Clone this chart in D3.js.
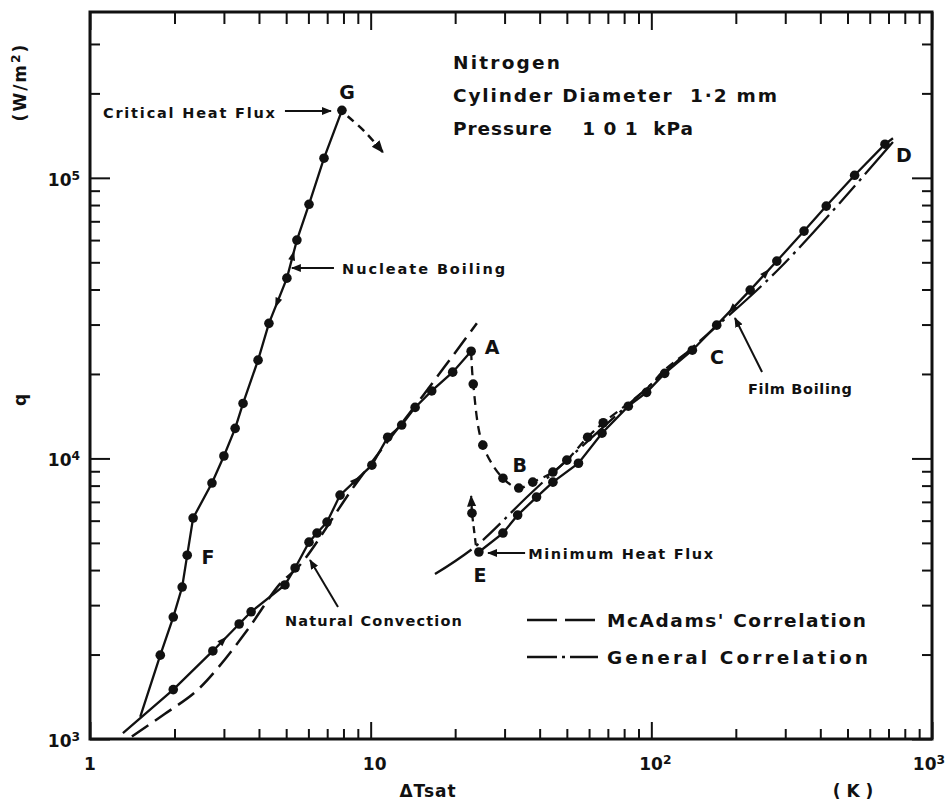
<!DOCTYPE html>
<html>
<head>
<meta charset="utf-8">
<script src="https://cdn.jsdelivr.net/npm/d3@7"></script>
<style>
  body { margin: 0; background: #fff; }
  svg { font-family: "DejaVu Sans", sans-serif; font-weight: bold; }
</style>
</head>
<body>
<script>
// Boiling curve of nitrogen (dT in K, q in W/m2).

// Natural convection run (first value is the line start, no marker).
const ncT = [1.31, 1.98, 2.74, 3.40, 3.75, 4.95, 5.38, 6.03, 6.44, 6.99, 7.78, 10.1, 11.5, 12.9, 14.4, 16.5, 19.6, 22.8];
const ncQ = [1.05e3, 1.50e3, 2.06e3, 2.57e3, 2.84e3, 3.54e3, 4.07e3, 5.03e3, 5.42e3, 5.93e3, 7.40e3, 9.46e3, 1.19e4, 1.315e4, 1.52e4, 1.74e4, 2.03e4, 2.41e4];

// Nucleate boiling run F -> G (first value is the branch point, no marker).
const nbT = [1.51, 1.78, 1.98, 2.13, 2.22, 2.33, 2.72, 3.00, 3.29, 3.51, 3.97, 4.34, 5.03, 5.46, 6.03, 6.82, 7.90];
const nbQ = [1.2e3, 1.99e3, 2.72e3, 3.48e3, 4.52e3, 6.13e3, 8.17e3, 1.02e4, 1.28e4, 1.57e4, 2.24e4, 3.03e4, 4.39e4, 6.0e4, 8.05e4, 1.175e5, 1.74e5];

// Transition A -> B (dashed, with markers) and its unmarked tail towards C.
const trT = [22.8, 23.2, 25.1, 29.6, 33.7, 37.8, 44.6, 50.0, 59.3, 67.4];
const trQ = [2.41e4, 1.84e4, 1.115e4, 8.5e3, 7.84e3, 8.23e3, 8.94e3, 9.86e3, 1.19e4, 1.34e4];
const trTailT = [82.8, 96.2, 111.6, 140];
const trTailQ = [1.57e4, 1.77e4, 2.07e4, 2.46e4];

// Film boiling run E -> D (last value is the line end, no marker).
const fbT = [24.3, 29.6, 33.4, 39.0, 44.6, 55.0, 66.7, 82.8, 96.2, 111.6, 140, 171, 225, 280, 350, 420, 530, 680, 726];
const fbQ = [4.64e3, 5.42e3, 6.28e3, 7.28e3, 8.23e3, 9.61e3, 1.23e4, 1.535e4, 1.72e4, 2.01e4, 2.43e4, 2.985e4, 3.98e4, 5.05e4, 6.46e4, 7.93e4, 1.021e5, 1.318e5, 1.384e5];

// Jump from E back up (dashed arrow, marker on the middle value).
const ejT = [23.7, 22.96, 22.8];
const ejQ = [4.91e3, 6.38e3, 7.34e3];

// Jump away from the critical heat flux G (dashed arrow).
const gjT = [8.28, 9.6, 11.05];
const gjQ = [1.658e5, 1.45e5, 1.234e5];

// McAdams' correlation (long dashes).
const mcT = [1.41, 1.85, 2.37, 2.84, 3.63, 4.75, 5.6, 8.94, 15.4, 23.9];
const mcQ = [1.02e3, 1.23e3, 1.47e3, 1.78e3, 2.44e3, 3.57e3, 4.17e3, 8.23e3, 1.68e4, 3.03e4];

// General correlation (dash-dot).
const gcT = [16.95, 23.7, 37.0, 65.6, 137, 287, 726];
const gcQ = [3.87e3, 4.87e3, 7.47e3, 1.262e4, 2.434e4, 4.77e4, 1.342e5];

// Axis ticks and labels.
const xMajor = [1, 10, 100, 1000];
const xTickLabels = ["1", "10", "10^2", "10^3"];
const yMajor = [1e3, 1e4, 1e5];
const yTickLabels = ["10^3", "10^4", "10^5"];

const zip = (a, b) => a.map((v, i) => [v, b[i]]);

const width = 948, height = 803;
const plotL = 90, plotR = 932, plotT = 12, plotB = 739;

const svg = d3.select("body").append("svg")
    .attr("width", width)
    .attr("height", height);

const x = d3.scaleLog().domain([1, 1000]).range([plotL, plotR]);
const y = d3.scaleLog().domain([1e3, 3.9e5]).range([plotB, plotT]);

const ink = "#111";

// Arrow head used by annotations and jump arrows.
svg.append("defs").append("marker")
    .attr("id", "head")
    .attr("viewBox", "0 0 10 10")
    .attr("refX", 9).attr("refY", 5)
    .attr("markerWidth", 5).attr("markerHeight", 5)
    .attr("markerUnits", "strokeWidth")
    .attr("orient", "auto")
  .append("path")
    .attr("d", "M0,1 L10,5 L0,9 Z")
    .attr("fill", ink);

// Minor ticks 2..9 in every decade of each axis.
const minors = (lo, hi) => {
    const out = [];
    for (let d = lo; d < hi; d *= 10)
        for (let k = 2; k <= 9; k++) out.push(k * d);
    return out;
};
const xMinor = minors(1, 1000);
const yMinor = minors(1e3, 1e5).concat([2e5, 3e5]);

const isMajor = d => Math.abs(Math.log10(d) - Math.round(Math.log10(d))) < 1e-9;

// Four axes, ticks pointing inward.
const axes = [
    { gen: d3.axisBottom(x), vals: xMinor.concat(xMajor), tr: `translate(0,${plotB})`, dir: -1, attr: "y2", maj: 17, min: 10 },
    { gen: d3.axisTop(x), vals: xMinor.concat(xMajor), tr: `translate(0,${plotT})`, dir: 1, attr: "y2", maj: 18, min: 12 },
    { gen: d3.axisLeft(y), vals: yMinor.concat(yMajor), tr: `translate(${plotL},0)`, dir: 1, attr: "x2", maj: 20, min: 10 },
    { gen: d3.axisRight(y), vals: yMinor.concat(yMajor), tr: `translate(${plotR},0)`, dir: -1, attr: "x2", maj: 20, min: 10 }
];
axes.forEach(a => {
    const g = svg.append("g")
        .attr("transform", a.tr)
        .call(a.gen.tickValues(a.vals).tickFormat(() => "").tickSizeOuter(0));
    g.select(".domain").remove();
    g.selectAll(".tick line")
        .attr(a.attr, d => a.dir * (isMajor(d) ? a.maj : a.min))
        .attr("stroke", ink)
        .attr("stroke-width", 2);
});

// Frame.
svg.append("rect")
    .attr("x", plotL).attr("y", plotT)
    .attr("width", plotR - plotL).attr("height", plotB - plotT)
    .attr("fill", "none")
    .attr("stroke", ink)
    .attr("stroke-width", 3);

// Labels like "10^2" become 10 with a raised exponent.
const powerText = (sel, label) => {
    const [base, exp] = label.split("^");
    sel.append("tspan").text(base);
    if (exp) sel.append("tspan").attr("dy", "-0.5em").attr("font-size", "0.72em").text(exp);
};

xMajor.forEach((v, i) => {
    const last = i === xMajor.length - 1;
    svg.append("text")
        .attr("x", last ? width - 3 : x(v) + (i === 0 ? 0 : 4))
        .attr("y", plotB + 31)
        .attr("text-anchor", last ? "end" : "middle")
        .attr("font-size", 17)
        .attr("fill", ink)
        .call(powerText, xTickLabels[i]);
});

yMajor.forEach((v, i) => {
    svg.append("text")
        .attr("x", plotL - 10)
        .attr("y", y(v) + 8)
        .attr("text-anchor", "end")
        .attr("font-size", 17)
        .attr("fill", ink)
        .call(powerText, yTickLabels[i]);
});

// Axis titles.
svg.append("text")
    .attr("x", 428).attr("y", 797)
    .attr("text-anchor", "middle")
    .attr("font-size", 17)
    .attr("letter-spacing", 1)
    .attr("fill", ink)
    .text("\u0394Tsat");

svg.append("text")
    .attr("x", 853).attr("y", 797)
    .attr("text-anchor", "middle")
    .attr("font-size", 17)
    .attr("fill", ink)
    .attr("xml:space", "preserve")
    .text("( K )");

svg.append("text")
    .attr("transform", "translate(26,82) rotate(-90)")
    .attr("text-anchor", "middle")
    .attr("font-size", 17)
    .attr("letter-spacing", 2)
    .attr("fill", ink)
    .call(s => {
        s.append("tspan").text("(W/m");
        s.append("tspan").attr("dy", "-0.5em").attr("font-size", "0.72em").text("2");
        s.append("tspan").attr("dy", "0.35em").text(")");
    });

svg.append("text")
    .attr("transform", "translate(26,400) rotate(-90)")
    .attr("text-anchor", "middle")
    .attr("font-size", 17)
    .attr("fill", ink)
    .text("q");

// Curves.
const line = d3.line().x(d => x(d[0])).y(d => y(d[1]));
const smooth = d3.line().x(d => x(d[0])).y(d => y(d[1])).curve(d3.curveCatmullRom);

const drawPath = (pts, gen, dash, w, head) => {
    const p = svg.append("path")
        .datum(pts)
        .attr("d", gen)
        .attr("fill", "none")
        .attr("stroke", ink)
        .attr("stroke-width", w)
        .attr("stroke-linecap", "butt")
        .attr("stroke-dasharray", dash);
    if (head) p.attr("marker-end", "url(#head)");
    return p;
};

const drawDots = pts => {
    svg.append("g").selectAll("circle")
        .data(pts)
        .join("circle")
        .attr("cx", d => x(d[0]))
        .attr("cy", d => y(d[1]))
        .attr("r", 4.8)
        .attr("fill", ink);
};

drawPath(zip(mcT, mcQ), smooth, "20,8", 2.5);
drawPath(zip(gcT, gcQ), smooth, "44,6,3,6,24,6,3,6", 2.3);

const nc = zip(ncT, ncQ);
drawPath(nc, line, null, 2.3);
drawDots(nc.slice(1));

const nb = zip(nbT, nbQ);
drawPath(nb, line, null, 2.3);
drawDots(nb.slice(1));

const tr = zip(trT, trQ);
drawPath(tr.concat(zip(trTailT, trTailQ)), smooth, "9,6", 2.3);
drawDots(tr.slice(1));

const fb = zip(fbT, fbQ);
drawPath(fb, line, null, 2.3);
drawDots(fb.slice(0, -1));

const ej = zip(ejT, ejQ);
drawPath(ej, line, "7,5", 2.3, true);
drawDots([ej[1]]);

drawPath(zip(gjT, gjQ), smooth, "8,6", 2.5, true);

// Small direction arrows along the runs: series, segment index, fraction, sense.
const flow = [
    [nc, 2, 0.4, 1], [nc, 10, 0.5, 1],
    [nb, 12, 0.6, 1], [nb, 11, 0.45, -1],
    [fb, 11, 0.45, -1], [fb, 12, 0.6, 1]
];
flow.forEach(([pts, i, f, s]) => {
    const x0 = x(pts[i][0]), y0 = y(pts[i][1]);
    const x1 = x(pts[i + 1][0]), y1 = y(pts[i + 1][1]);
    const px = x0 + f * (x1 - x0), py = y0 + f * (y1 - y0);
    let ang = Math.atan2(y1 - y0, x1 - x0) * 180 / Math.PI;
    if (s < 0) ang += 180;
    svg.append("path")
        .attr("d", "M5,0 L-5,-3.5 L-5,3.5 Z")
        .attr("transform", `translate(${px},${py}) rotate(${ang})`)
        .attr("fill", ink);
});

// Point letters.
const letters = [
    ["A", 27.1, 2.495e4], ["B", 34.0, 9.475e3], ["C", 171.4, 2.298e4],
    ["D", 794, 1.206e5], ["E", 24.5, 3.84e3], ["F", 2.63, 4.45e3], ["G", 8.24, 2.022e5]
];
letters.forEach(([s, t, q]) => {
    svg.append("text")
        .attr("x", x(t)).attr("y", y(q) + 7)
        .attr("text-anchor", "middle")
        .attr("font-size", 19)
        .attr("fill", ink)
        .text(s);
});

// Labelled arrows: text, anchor point, arrow from -> to (all in data space).
const notes = [
    { s: "Critical Heat Flux", at: [4.56, 1.634e5], anchor: "end", len: 172, from: [4.95, 1.73e5], to: [7.22, 1.73e5] },
    { s: "Nucleate Boiling", at: [7.91, 4.54e4], anchor: "start", len: 163, from: [7.40, 4.77e4], to: [5.24, 4.77e4] },
    { s: "Natural Convection", at: [4.95, 2.527e3], anchor: "start", len: 177, from: [7.65, 2.954e3], to: [6.08, 4.345e3] },
    { s: "Minimum Heat Flux", at: [36.4, 4.381e3], anchor: "start", len: 185, from: [35.5, 4.601e3], to: [26.2, 4.601e3] },
    { s: "Film Boiling", at: [221, 1.696e4], anchor: "start", len: 104, from: [248, 2.032e4], to: [198.6, 3.164e4] }
];
notes.forEach(n => {
    svg.append("text")
        .attr("x", x(n.at[0])).attr("y", y(n.at[1]))
        .attr("text-anchor", n.anchor)
        .attr("font-size", 14.5)
        .attr("textLength", n.len)
        .attr("lengthAdjust", "spacing")
        .attr("fill", ink)
        .text(n.s);
    drawPath([n.from, n.to], line, null, 2, true);
});

// Conditions block.
const info = ["Nitrogen", "Cylinder Diameter  1\u00b72 mm", "Pressure    1 0 1  kPa"];
const infoLen = [107, 324, 240];
info.forEach((s, i) => {
    svg.append("text")
        .attr("x", 453).attr("y", 69 + 33 * i)
        .attr("font-size", 18.5)
        .attr("textLength", infoLen[i])
        .attr("lengthAdjust", "spacing")
        .attr("xml:space", "preserve")
        .attr("fill", ink)
        .text(s);
});

// Legend.
const legend = [
    { s: "McAdams' Correlation", dash: "30,8", len: 259 },
    { s: "General Correlation", dash: "30,5,3,5", len: 261 }
];
legend.forEach((l, i) => {
    const ly = 620 + 37 * i;
    svg.append("line")
        .attr("x1", 527).attr("x2", 598)
        .attr("y1", ly).attr("y2", ly)
        .attr("stroke", ink)
        .attr("stroke-width", 2.5)
        .attr("stroke-dasharray", l.dash);
    svg.append("text")
        .attr("x", 607).attr("y", ly + 7)
        .attr("font-size", 18.5)
        .attr("textLength", l.len)
        .attr("lengthAdjust", "spacing")
        .attr("fill", ink)
        .text(l.s);
});
</script>
</body>
</html>
